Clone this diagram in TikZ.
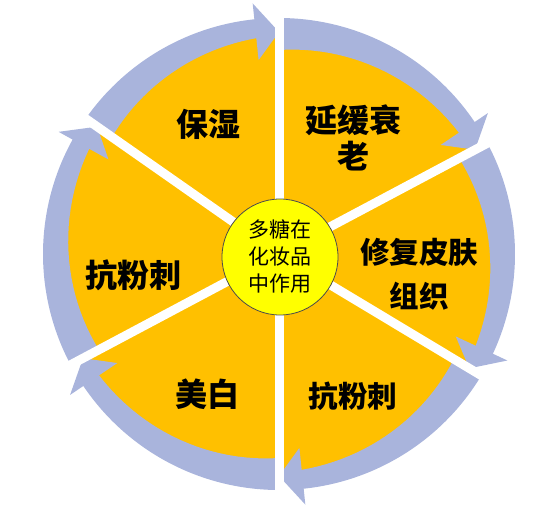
\documentclass[tikz,border=0pt]{standalone}
\usepackage{fontspec}
\newfontfamily\cjk{Noto Sans CJK SC}
\definecolor{gold}{HTML}{FFC000}
\definecolor{ringblue}{HTML}{A9B4DC}
\definecolor{hubyellow}{HTML}{FFFF00}
\tikzset{
  biglabel/.style={font=\cjk\bfseries\fontsize{32}{36}\selectfont,align=center},
  midlabel/.style={font=\cjk\bfseries\fontsize{29.5}{44}\selectfont,align=center},
  gap/.style={white,line width=9pt},
  hub/.style={circle,fill=hubyellow,draw=black!70,line width=0.8pt,minimum size=116pt,
    inner sep=0pt,align=center,font=\cjk\fontsize{21}{27}\selectfont}
}
\begin{document}
\begin{tikzpicture}[x=1pt,y=1pt]
        \useasboundingbox (-279,-250) rectangle (280,254);
        \fill[gold] (0,0) circle (221);

        % arrows round the wheel, clockwise
        \foreach \s/\e in {145/90,90/28,28/-31,-31/-90,-90/-152,208/145}{
          \pgfmathsetmacro{\b}{\e+6}
          \fill[ringblue] (\s:236) arc[start angle=\s,end angle=\b,radius=236]
            -- (\b:252) -- (\e:222) -- (\b:195) -- (\b:217)
            -- plot[domain=\b:\s,samples=25] (\x:{217-13*(\x-\b)/(\s-\b)}) -- cycle;
        }

        \foreach \a in {90,28,-31,-90,208,145}
          \draw[gap] (0,0) -- (\a:265);

        \node[hub] (hub) at (1,-3) {多糖在\\化妆品\\中作用};

        \node[biglabel] (moist) at (-70,130) {保湿};
        \node[biglabel] (aging) at (74,116) {延缓衰\\老};
        \node[midlabel] (repair) at (140,-20) {修复皮肤\\组织};
        \node[biglabel] (acneL) at (-145,-21) {抗粉刺};
        \node[biglabel] (white) at (-71,-140) {美白};
        \node[midlabel] (acneR) at (74,-142) {抗粉刺};
\end{tikzpicture}
\end{document}
